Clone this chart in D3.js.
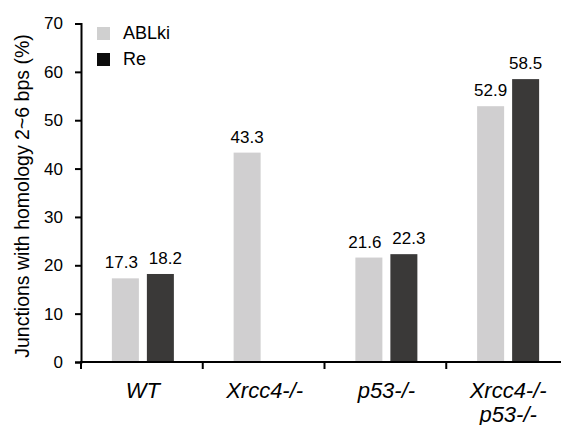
<!DOCTYPE html>
<html lang="en">
<head>
    <meta charset="UTF-8">
    <title>Junctions with homology</title>
    <script src="https://d3js.org/d3.v7.min.js"></script>
    <style>
        body { margin: 0; background: #fff; }
        text { font-family: "Liberation Sans", Arial, sans-serif; fill: #000; }
    </style>
</head>
<body>
    <script>
        var width = 561, height = 425;

        // data
        var genotypes = ["WT", "Xrcc4-/-", "p53-/-", "Xrcc4-/-|p53-/-"];
        var series = ["ABLki", "Re"];
        var ablki = [17.3, 43.3, 21.6, 52.9];
        var re = [18.2, null, 22.3, 58.5];
        var yTicks = [0, 10, 20, 30, 40, 50, 60, 70];
        var colors = { ABLki: "#d0cfd0", Re: "#3a3938" };
        var legendColors = { ABLki: "#d0d0d0", Re: "#0c0c0c" };

        var rows = [];
        genotypes.forEach(function (g, i) {
            // labels of two close bars are pushed apart a little
            var close = re[i] != null && Math.abs(re[i] - ablki[i]) < 3;
            rows.push({ g: g, s: "ABLki", v: ablki[i], dx: close ? -4 : 0 });
            rows.push({ g: g, s: "Re", v: re[i], dx: close ? 5 : 0 });
        });

        var svg = d3.select("body").append("svg")
            .attr("width", width)
            .attr("height", height);

        var y = d3.scaleLinear().domain([0, 70]).range([362, 23.5]);
        var x0 = d3.scaleBand().domain(genotypes).range([82, 569]).paddingInner(0).paddingOuter(0);
        var bw = x0.bandwidth();
        var x1 = d3.scaleBand().domain(series).range([bw / 2 - 31, bw / 2 + 31]).paddingInner(0.2286);

        var shown = rows.filter(function (d) { return d.v != null; });

        // bars
        svg.selectAll(".bar")
            .data(shown)
            .enter().append("rect")
            .attr("class", "bar")
            .attr("x", function (d) { return x0(d.g) + x1(d.s); })
            .attr("width", x1.bandwidth())
            .attr("y", function (d) { return y(d.v); })
            .attr("height", function (d) { return y(0) - y(d.v); })
            .attr("fill", function (d) { return colors[d.s]; });

        // value labels
        svg.selectAll(".val")
            .data(shown)
            .enter().append("text")
            .attr("class", "val")
            .attr("x", function (d) { return x0(d.g) + x1(d.s) + x1.bandwidth() / 2 + d.dx; })
            .attr("y", function (d) { return y(d.v) - 10; })
            .attr("text-anchor", "middle")
            .attr("font-size", "17px")
            .text(function (d) { return d.v.toFixed(1); });

        // y axis
        var yAxis = svg.append("g")
            .attr("transform", "translate(81,0)")
            .call(d3.axisLeft(y).tickValues(yTicks).tickSize(6).tickSizeOuter(6).tickPadding(12));
        yAxis.select(".domain").attr("stroke", "#000").attr("stroke-width", 2);
        yAxis.selectAll(".tick line").attr("stroke", "#000").attr("stroke-width", 2);
        yAxis.selectAll(".tick text").attr("font-size", "17px").attr("font-family", "Liberation Sans, Arial, sans-serif").attr("fill", "#000");

        // x axis line and ticks at band edges
        svg.append("line")
            .attr("x1", 80).attr("x2", width)
            .attr("y1", y(0)).attr("y2", y(0))
            .attr("stroke", "#000").attr("stroke-width", 2);
        svg.selectAll(".xtick")
            .data(genotypes)
            .enter().append("line")
            .attr("class", "xtick")
            .attr("x1", function (d) { return x0(d) - 1; })
            .attr("x2", function (d) { return x0(d) - 1; })
            .attr("y1", y(0)).attr("y2", y(0) + 7)
            .attr("stroke", "#000").attr("stroke-width", 2);

        // x labels (italic, may wrap on two lines)
        var xl = svg.selectAll(".xlab")
            .data(genotypes)
            .enter().append("text")
            .attr("class", "xlab")
            .attr("text-anchor", "middle")
            .attr("font-size", "22px")
            .attr("font-style", "italic")
            .attr("transform", function (d) { return "translate(" + (x0(d) + bw / 2) + ",398)"; });
        xl.each(function (d) {
            var parts = d.split("|");
            var t = d3.select(this);
            parts.forEach(function (p, i) {
                t.append("tspan").attr("x", 0).attr("dy", i == 0 ? 0 : 24).text(p);
            });
        });

        // y title
        svg.append("text")
            .attr("transform", "translate(29,196) rotate(-90)")
            .attr("text-anchor", "middle")
            .attr("font-size", "19.5px")
            .text("Junctions with homology 2~6 bps (%)");

        // legend
        var lg = svg.selectAll(".lg")
            .data(series)
            .enter().append("g")
            .attr("class", "lg")
            .attr("transform", function (d, i) { return "translate(97," + (27 + i * 26) + ")"; });
        lg.append("rect")
            .attr("width", 13).attr("height", 13)
            .attr("fill", function (d) { return legendColors[d]; });
        lg.append("text")
            .attr("x", 26).attr("y", 12)
            .attr("font-size", "18px")
            .text(function (d) { return d; });
    </script>
</body>
</html>
